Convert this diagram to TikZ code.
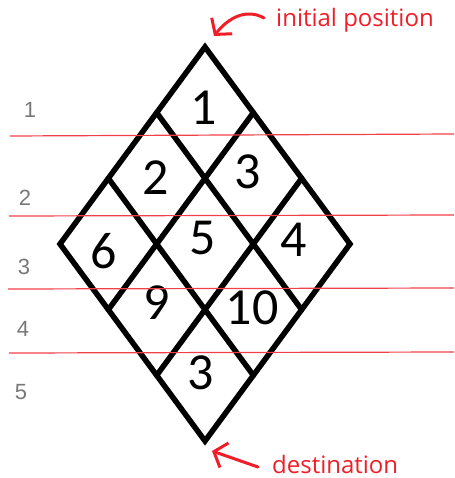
\documentclass[tikz,border=0pt]{standalone}
\usepackage{fontspec}
\setmainfont{Liberation Sans}
\newfontfamily\cellfont{Carlito}
\newfontfamily\notefont{Open Sans}
\usetikzlibrary{arrows.meta,calc}
\definecolor{rowgray}{RGB}{120,120,120}
\definecolor{notered}{RGB}{240,30,40}
\tikzset{
  gridline/.style={line width=5.5pt, black, line join=miter, line cap=round},
  rowline/.style={line width=1.2pt, notered!85},
  rowlabel/.style={font=\fontsize{22}{24}\selectfont, text=rowgray, inner sep=0pt},
  cellnum/.style={font=\cellfont\fontsize{52}{54}\selectfont, inner sep=0pt},
  note/.style={font=\notefont\fontsize{24}{26}\selectfont, text=notered, inner sep=0pt, anchor=base west},
  notearrow/.style={line width=3pt, notered, line cap=round, -{Straight Barb[length=11pt,width=26pt,line width=3pt]}}
}
\begin{document}
\begin{tikzpicture}[x=1pt,y=-1pt]
\useasboundingbox (0,0) rectangle (454,478);
% diamond corners
\coordinate (T) at (205,47);
\coordinate (L) at (60,244);
\coordinate (R) at (350,244);
\coordinate (B) at (205,441);
% edge points
\coordinate (tl1) at ($(T)!1/3!(L)$);
\coordinate (tl2) at ($(T)!2/3!(L)$);
\coordinate (tr1) at ($(T)!1/3!(R)$);
\coordinate (tr2) at ($(T)!2/3!(R)$);
\coordinate (bl1) at ($(L)!1/3!(B)$);
\coordinate (bl2) at ($(L)!2/3!(B)$);
\coordinate (br1) at ($(R)!1/3!(B)$);
\coordinate (br2) at ($(R)!2/3!(B)$);
% diamond
\draw[gridline] (T) -- (R) -- (B) -- (L) -- cycle;
\draw[gridline] (tl1) -- (br1);
\draw[gridline] (tl2) -- (br2);
\draw[gridline] (tr1) -- (bl1);
\draw[gridline] (tr2) -- (bl2);
% cell numbers
\node[cellnum] (c1) at (204,108) {1};
\node[cellnum] (c2) at (156,178) {2};
\node[cellnum] (c3) at (248,172) {3};
\node[cellnum] (c6) at (104,251) {6};
\node[cellnum] (c5) at (203,238) {5};
\node[cellnum] (c4) at (294,240) {4};
\node[cellnum] (c9) at (157,303) {9};
\node[cellnum] (c10) at (252,308) {10};
\node[cellnum] (c11) at (201,373) {3};
% row lines
\coordinate (r1a) at (10,136); \coordinate (r1b) at (454,134);
\coordinate (r2a) at (9,216);  \coordinate (r2b) at (454,215);
\coordinate (r3a) at (8,289);  \coordinate (r3b) at (454,288);
\coordinate (r4a) at (9,353);  \coordinate (r4b) at (454,352);
\draw[rowline] (r1a) -- (r1b);
\draw[rowline] (r2a) -- (r2b);
\draw[rowline] (r3a) -- (r3b);
\draw[rowline] (r4a) -- (r4b);
% row labels
\node[rowlabel] (l1) at (30,110) {1};
\node[rowlabel] (l2) at (25,198) {2};
\node[rowlabel] (l3) at (24,267) {3};
\node[rowlabel] (l4) at (23,329) {4};
\node[rowlabel] (l5) at (21,392) {5};
% notes
\node[note] (init) at (276,27) {initial position};
\node[note] (dest) at (272,473) {destination};
\coordinate (a1s) at (264,18);
\coordinate (a1e) at (214,36);
\coordinate (a2s) at (258,467);
\coordinate (a2e) at (212,451);
\draw[notearrow] (a1s) .. controls (246,8) and (228,18) .. (a1e);
\draw[notearrow] (a2s) -- (a2e);
\end{tikzpicture}
\end{document}
